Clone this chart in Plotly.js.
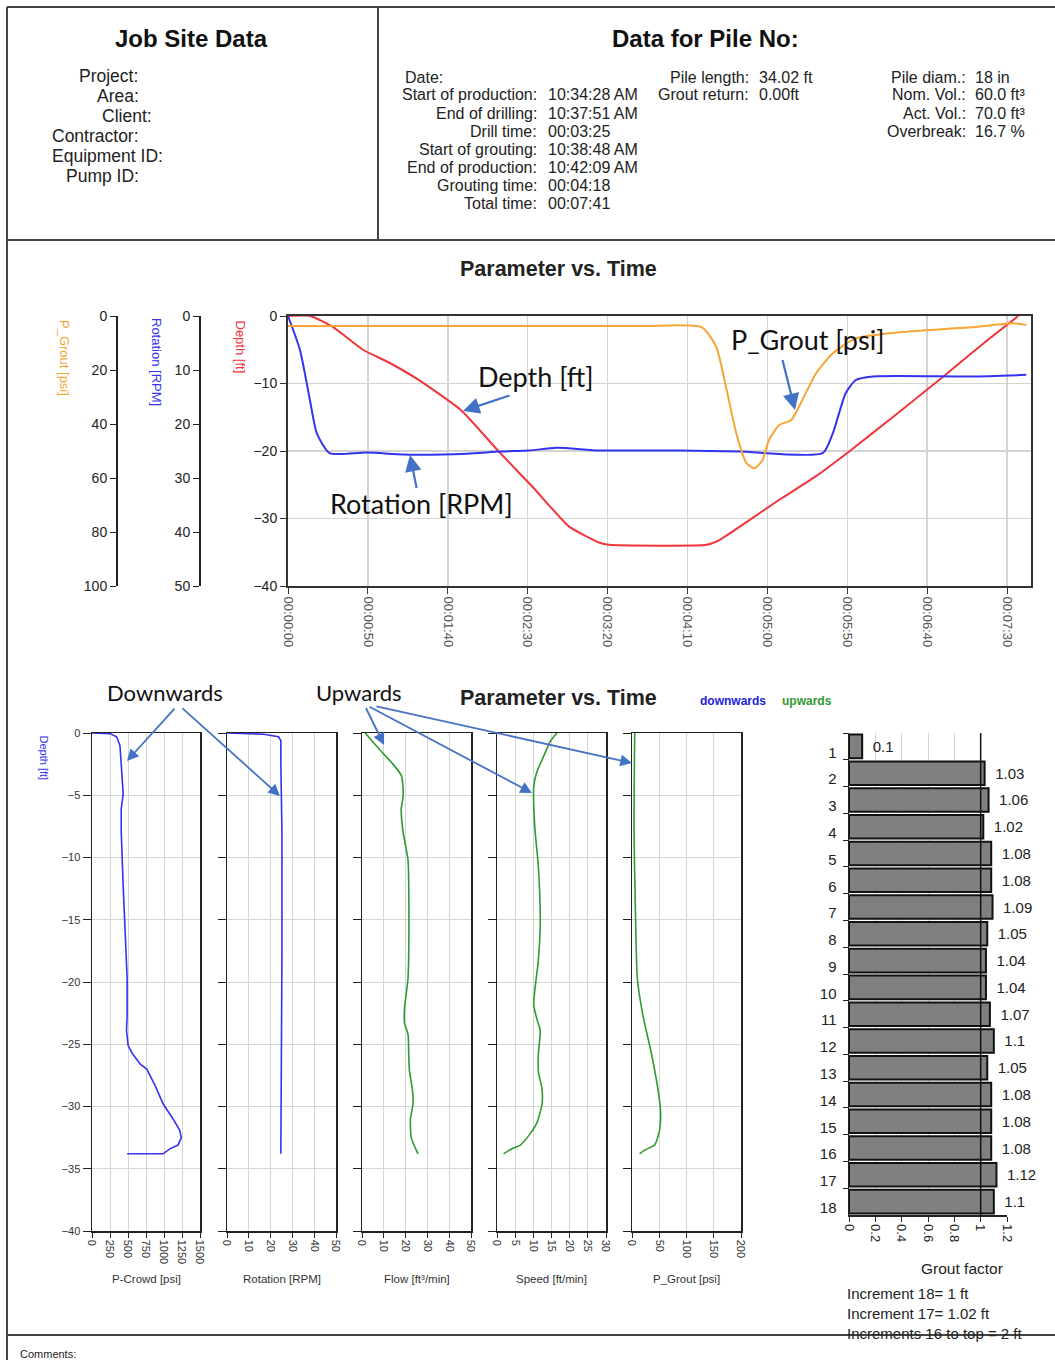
<!DOCTYPE html>
<html><head><meta charset="utf-8">
<script src="https://cdn.plot.ly/plotly-3.0.1.min.js"></script>
<style>html,body{margin:0;padding:0;background:#fff}#chart{width:1055px;height:1360px}</style>
</head><body><div id="chart"></div>
<script>
// ================= DATA =================
// Top chart: Parameter vs. Time (time in seconds)
const timeTickVals = [0, 50, 100, 150, 200, 250, 300, 350, 400, 450];
const timeTickLabels = ["00:00:00","00:00:50","00:01:40","00:02:30","00:03:20","00:04:10","00:05:00","00:05:50","00:06:40","00:07:30"];

const depthTime = [0, 14, 28, 47, 64, 82, 108, 132, 153, 176, 195, 201, 262, 270, 289, 307, 330, 351, 380, 410, 435, 457];
const depthFt   = [0, 0, -1.6, -5, -7, -9.5, -13.9, -20.1, -25.3, -31.2, -33.6, -33.9, -33.9, -33.2, -30.2, -27.3, -23.8, -20.1, -14.7, -9.0, -4.1, 0];

const rotTime = [0, 7.5, 13.75, 18, 26, 49, 78, 112, 132.5, 151, 168, 195, 245, 282.5, 334.6, 341, 349, 355.4, 366, 428, 462];
const rotRPM  = [0, 6.3, 15.6, 21.7, 25.4, 25.3, 25.7, 25.5, 25.1, 24.9, 24.4, 24.9, 24.9, 25.1, 25.4, 21.7, 14.3, 11.85, 11.2, 11.2, 10.9];

const groutTime = [0, 220, 259, 268, 274, 280.6, 287, 292, 297, 301, 307.5, 315, 322, 330.5, 341, 355.4, 387, 428, 454, 462];
const groutPsi  = [3.7, 3.7, 4.2, 11.4, 26, 43.5, 54.6, 56.4, 53.3, 46, 40.4, 38.5, 31, 21.2, 13.8, 8.3, 5.8, 4.2, 2.7, 3.3];

// Bottom panels: parameter vs. depth
const pcrowdPsi   = [0, 250, 342, 388, 406, 433, 406, 406, 433, 465, 488, 488, 479, 502, 556, 670, 761, 875, 989, 1126, 1217, 1240, 1195, 1080, 989, 488];
const pcrowdDepth = [0, -0.05, -0.3, -1.0, -2.5, -4.9, -6.1, -7.9, -12.3, -16.8, -19.7, -22.7, -23.9, -25.1, -25.7, -26.6, -27.0, -28.3, -29.8, -31.0, -31.9, -32.5, -33.1, -33.4, -33.8, -33.8];

const rotDownRPM   = [0, 16.8, 23.6, 24.7, 24.7, 25.2, 25.2, 24.8, 24.7];
const rotDownDepth = [0, -0.1, -0.3, -0.6, -2.5, -7.9, -17.8, -25.7, -33.8];

const flowUp      = [1.5, 4.9, 9.5, 14.2, 18, 18.8, 18.8, 18, 18.8, 21.1, 21.5, 21.1, 19.5, 19.5, 21.1, 21.5, 21.8, 23.1, 23.4, 22.2, 22.6, 24.6, 25.7];
const flowUpDepth = [0, -0.7, -1.6, -2.5, -3.4, -4.3, -5.2, -6.1, -7.9, -10.2, -13.8, -19.7, -22.1, -23.3, -24.2, -26.3, -27.2, -28.6, -29.8, -31, -32.5, -33.4, -33.8];

const speedUp      = [16.5, 14.6, 12.8, 11, 10.1, 10.1, 10.5, 11.4, 11.9, 11.4, 10.1, 11, 11.9, 11.4, 11.4, 12.4, 12.4, 11, 9.1, 6.4, 4.1, 1.8];
const speedUpDepth = [0, -0.7, -1.9, -3.1, -4.3, -5.8, -7.9, -10.8, -15.3, -18.2, -21.8, -23, -23.9, -25.7, -27.2, -28.6, -29.8, -31.3, -32.2, -33.1, -33.4, -33.8];

const groutUpPsi   = [4.9, 3.7, 6.1, 9.8, 20.1, 35.4, 47.6, 52.4, 50.6, 41.5, 23.2, 14.0];
const groutUpDepth = [0, -7.9, -13.8, -19.7, -22.7, -25.7, -28.6, -30.4, -31.9, -33.1, -33.5, -33.8];

// Grout factor per increment
const increments = ["1","2","3","4","5","6","7","8","9","10","11","12","13","14","15","16","17","18"];
const groutFactor = [0.1, 1.03, 1.06, 1.02, 1.08, 1.08, 1.09, 1.05, 1.04, 1.04, 1.07, 1.1, 1.05, 1.08, 1.08, 1.08, 1.12, 1.1];

// Header texts
const jobSiteLabels = ["Project:", "Area:", "Client:", "Contractor:", "Equipment ID:", "Pump ID:"];
const pileTimeLabels = ["Start of production:", "End of drilling:", "Drill time:", "Start of grouting:", "End of production:", "Grouting time:", "Total time:"];
const pileTimeValues = ["10:34:28 AM", "10:37:51 AM", "00:03:25", "10:38:48 AM", "10:42:09 AM", "00:04:18", "00:07:41"];
const pileLenLabels = ["Pile length:", "Grout return:"];
const pileLenValues = ["34.02 ft", "0.00ft"];
const pileVolLabels = ["Pile diam.:", "Nom. Vol.:", "Act. Vol.:", "Overbreak:"];
const pileVolValues = ["18 in", "60.0 ft³", "70.0 ft³", "16.7 %"];
const incrementNotes = ["Increment 18= 1 ft", "Increment 17= 1.02 ft", "Increments 16 to top = 2 ft"];
const panelTitles = ["P-Crowd [psi]", "Rotation [RPM]", "Flow [ft³/min]", "Speed [ft/min]", "P_Grout [psi]"];

// ================= LAYOUT HELPERS =================
const W = 1055, H = 1360;
const X = p => p / W;
const Y = p => 1 - p / H;
const FONT = 'Liberation Sans, Arial, sans-serif';
const CAL = 'Lato, Carlito, sans-serif';
const RED = '#f2353a', BLUE = '#3434f0', ORANGE = '#f7a534', GREEN = '#2f9a2f', ARROW = '#4472c4';

const traces = [];
// top chart
traces.push({x: groutTime, y: groutPsi, xaxis: 'x', yaxis: 'y3', mode: 'lines', line: {color: ORANGE, width: 2, shape: 'spline', smoothing: 0.6}, hoverinfo: 'skip'});
traces.push({x: rotTime, y: rotRPM, xaxis: 'x', yaxis: 'y2', mode: 'lines', line: {color: BLUE, width: 2, shape: 'spline', smoothing: 0.6}, hoverinfo: 'skip'});
traces.push({x: depthTime, y: depthFt, xaxis: 'x', yaxis: 'y', mode: 'lines', line: {color: RED, width: 2, shape: 'spline', smoothing: 0.5}, hoverinfo: 'skip'});
// bottom panels
traces.push({x: pcrowdPsi, y: pcrowdDepth, xaxis: 'x2', yaxis: 'y4', mode: 'lines', line: {color: BLUE, width: 1.6}});
traces.push({x: rotDownRPM, y: rotDownDepth, xaxis: 'x3', yaxis: 'y5', mode: 'lines', line: {color: BLUE, width: 1.6}});
traces.push({x: flowUp, y: flowUpDepth, xaxis: 'x4', yaxis: 'y6', mode: 'lines', line: {color: GREEN, width: 1.6, shape: 'spline', smoothing: 0.6}});
traces.push({x: speedUp, y: speedUpDepth, xaxis: 'x5', yaxis: 'y7', mode: 'lines', line: {color: GREEN, width: 1.6, shape: 'spline', smoothing: 0.6}});
traces.push({x: groutUpPsi, y: groutUpDepth, xaxis: 'x6', yaxis: 'y8', mode: 'lines', line: {color: GREEN, width: 1.6, shape: 'spline', smoothing: 0.6}});
// grout factor bars
traces.push({type: 'bar', orientation: 'h', x: groutFactor, y: increments, xaxis: 'x7', yaxis: 'y9',
  marker: {color: '#808080', line: {color: '#111', width: 2}},
  text: groutFactor.map(v => '\u2002' + v), textposition: 'outside', cliponaxis: false,
  textfont: {family: FONT, size: 15, color: '#222'}});

const layout = {
  width: W, height: H, autosize: false,
  margin: {l: 0, r: 0, t: 0, b: 0},
  paper_bgcolor: '#fff', plot_bgcolor: '#fff',
  showlegend: false,
  font: {family: FONT, size: 12, color: '#222'},
  bargap: 0.12,
  xaxis: {domain: [X(288), X(1031)], range: [0, 465], anchor: 'y',
    tickvals: timeTickVals, ticktext: timeTickLabels, tickangle: 90,
    ticks: 'outside', ticklen: 6, tickcolor: '#333', showline: true, linecolor: '#333', linewidth: 2, mirror: true,
    showgrid: true, gridcolor: '#d4d4d4', gridwidth: 1.5, zeroline: false,
    tickfont: {size: 13, color: '#555'}},
  yaxis: {domain: [Y(586), Y(316)], range: [-40, 0], anchor: 'x', dtick: 10,
    ticks: 'outside', ticklen: 6, tickcolor: '#333', showline: true, linecolor: '#333', linewidth: 2, mirror: true,
    showgrid: true, gridcolor: '#d4d4d4', gridwidth: 1.5, zeroline: false, tickfont: {size: 14, color: '#222'}},
  yaxis2: {overlaying: 'y', anchor: 'free', position: X(200), side: 'left', range: [50, 0], dtick: 10,
    ticks: 'outside', ticklen: 6, tickcolor: '#222', showline: true, linecolor: '#222', linewidth: 2,
    showgrid: false, zeroline: false, tickfont: {size: 14, color: '#222'}},
  yaxis3: {overlaying: 'y', anchor: 'free', position: X(117), side: 'left', range: [100, 0], dtick: 20,
    ticks: 'outside', ticklen: 6, tickcolor: '#222', showline: true, linecolor: '#222', linewidth: 2,
    showgrid: false, zeroline: false, tickfont: {size: 14, color: '#222'}},
  shapes: [], annotations: []
};

// bottom panels axes
const panels = [
  {l: 92, r: 200, range: [0, 1500], dtick: 250},
  {l: 227, r: 336, range: [0, 50], dtick: 10},
  {l: 362, r: 471, range: [0, 50], dtick: 10},
  {l: 497, r: 606, range: [0, 30], dtick: 5},
  {l: 632, r: 741, range: [0, 200], dtick: 50}
];
panels.forEach((p, i) => {
  const xi = i + 2, yi = i + 4;
  layout['xaxis' + xi] = {domain: [X(p.l), X(p.r)], range: p.range, dtick: p.dtick, anchor: 'y' + yi,
    tickangle: 90, ticks: 'outside', ticklen: 5, tickcolor: '#222', showline: true, linecolor: '#222', linewidth: 1.5, mirror: true,
    showgrid: true, gridcolor: '#d6d6d6', zeroline: false, tickfont: {size: 11, color: '#333'}};
  layout['yaxis' + yi] = {domain: [Y(1231), Y(733)], range: [-40, 0], dtick: 5, anchor: 'x' + xi,
    ticks: 'outside', ticklen: 8, tickcolor: '#222', showline: true, linecolor: '#222', linewidth: 1.5, mirror: true,
    showgrid: true, gridcolor: '#d6d6d6', zeroline: false, showticklabels: i === 0, tickfont: {size: 11, color: '#333'}};
});

// bar chart axes
layout.xaxis7 = {domain: [X(849), X(1007)], range: [0, 1.2], dtick: 0.2, anchor: 'y9', tickangle: 90,
  ticks: 'outside', ticklen: 5, tickcolor: '#222', showline: true, linecolor: '#222', linewidth: 1.5,
  showgrid: true, gridcolor: '#d6d6d6', zeroline: false, tickfont: {size: 13, color: '#222'}};
layout.yaxis9 = {domain: [Y(1215), Y(733)], type: 'category', autorange: 'reversed', anchor: 'x7',
  ticks: 'outside', ticklen: 5, tickson: 'boundaries', tickcolor: '#222', showline: true, linecolor: '#222', linewidth: 1.5,
  ticklabelstandoff: 8, ticklabelshift: -6,
  showgrid: false, zeroline: false, tickfont: {size: 15, color: '#222'}};
layout.shapes.push({type: 'line', xref: 'x7', yref: 'y9 domain', x0: 1, x1: 1, y0: 0, y1: 1, line: {color: '#111', width: 1.5}});

// frame lines of the report
const frame = [[7, 7, 1055, 7], [7, 7, 7, 1360], [378, 7, 378, 240], [7, 240, 1055, 240], [7, 1335, 1055, 1335]];
frame.forEach(f => layout.shapes.push({type: 'line', xref: 'paper', yref: 'paper', x0: X(f[0]), y0: Y(f[1]), x1: X(f[2]), y1: Y(f[3]), line: {color: '#444', width: 2}}));

const A = layout.annotations;
function txt(text, x, y, o) {
  A.push(Object.assign({text: text, x: X(x), y: Y(y), xref: 'paper', yref: 'paper', showarrow: false,
    xanchor: 'left', yanchor: 'middle', font: {family: FONT, size: 16, color: '#222'}}, o || {}));
}
function arrow(tx, ty, hx, hy, w) {
  A.push({text: ' ', x: X(hx), y: Y(hy), xref: 'paper', yref: 'paper', showarrow: true,
    ax: tx - hx, ay: ty - hy, axref: 'pixel', ayref: 'pixel', arrowhead: 2, arrowsize: w ? 1.3 : 1.5, arrowwidth: w || 2.2,
    arrowcolor: ARROW, standoff: 0, startstandoff: 0, font: {size: 1}});
}

// header
txt('<b>Job Site Data</b>', 191, 38, {xanchor: 'center', font: {family: FONT, size: 24, color: '#111'}});
txt('<b>Data for Pile No:</b>', 705, 38, {xanchor: 'center', font: {family: FONT, size: 24, color: '#111'}});
const jobX = [77, 95, 100, 50, 50, 64], jobY = [76, 96, 116, 136, 156, 176];
jobSiteLabels.forEach((t, i) => txt(t, jobX[i], jobY[i], {font: {family: FONT, size: 17.5, color: '#222'}}));
txt('Date:', 403, 77);
pileTimeLabels.forEach((t, i) => { const yy = 95 + i * 18.1; txt(t, 539, yy, {xanchor: 'right'}); txt(pileTimeValues[i], 546, yy); });
pileLenLabels.forEach((t, i) => { const yy = 77 + i * 18; txt(t, 751, yy, {xanchor: 'right'}); txt(pileLenValues[i], 757, yy); });
pileVolLabels.forEach((t, i) => { const yy = 77 + i * 18; txt(t, 968, yy, {xanchor: 'right'}); txt(pileVolValues[i], 973, yy); });

// top chart title and axis titles
txt('<b>Parameter vs. Time</b>', 558, 269, {xanchor: 'center', font: {family: FONT, size: 21.5, color: '#222'}});
txt('P_Grout [psi]', 65, 318, {xanchor: 'center', yanchor: 'top', textangle: 90, font: {family: FONT, size: 13, color: ORANGE}});
txt('Rotation [RPM]', 157, 316, {xanchor: 'center', yanchor: 'top', textangle: 90, font: {family: FONT, size: 13, color: BLUE}});
txt('Depth [ft]', 240, 318, {xanchor: 'center', yanchor: 'top', textangle: 90, font: {family: FONT, size: 13, color: RED}});

// top chart callouts
txt('Depth [ft]', 536, 376, {xanchor: 'center', font: {family: CAL, size: 27, color: '#111'}});
txt('Rotation [RPM]', 421, 503, {xanchor: 'center', font: {family: CAL, size: 27, color: '#111'}});
txt('P_Grout [psi]', 807, 339, {xanchor: 'center', font: {family: CAL, size: 27, color: '#111'}});
arrow(511, 395, 463, 411);
arrow(417, 490, 410, 455);
arrow(782, 358, 795, 410);

// bottom title, legend and callouts
txt('<b>Parameter vs. Time</b>', 558, 698, {xanchor: 'center', font: {family: FONT, size: 21.5, color: '#222'}});
txt('<b>downwards</b>', 698, 701, {font: {family: FONT, size: 12, color: '#2222dd'}});
txt('<b>upwards</b>', 780, 701, {font: {family: FONT, size: 12, color: GREEN}});
txt('Depth [ft]', 44, 733, {xanchor: 'center', yanchor: 'top', textangle: 90, font: {family: FONT, size: 11, color: BLUE}});
txt('Downwards', 165, 692, {xanchor: 'center', font: {family: CAL, size: 22, color: '#111'}});
txt('Upwards', 359, 692, {xanchor: 'center', font: {family: CAL, size: 22, color: '#111'}});
arrow(176, 707, 127, 761, 1.8);
arrow(181, 707, 280, 796, 1.8);
arrow(365, 706, 384, 745, 1.8);
arrow(368, 706, 532, 793, 1.8);
arrow(375, 706, 632, 763, 1.8);

// panel axis titles (aligned on one baseline like the report)
panels.forEach((p, i) => txt(panelTitles[i], (p.l + p.r) / 2, 1279, {xanchor: 'center', font: {family: FONT, size: 11.5, color: '#333'}}));
txt('Grout factor', 962, 1268, {xanchor: 'center', font: {family: FONT, size: 15.5, color: '#222'}});

// increment notes + comments
incrementNotes.forEach((t, i) => txt(t, 845, 1293 + i * 20, {font: {family: FONT, size: 15, color: '#222'}}));
txt('Comments:', 18, 1354, {font: {family: FONT, size: 11, color: '#222'}});

Plotly.newPlot('chart', traces, layout, {staticPlot: true, displayModeBar: false});
</script>
</body></html>
